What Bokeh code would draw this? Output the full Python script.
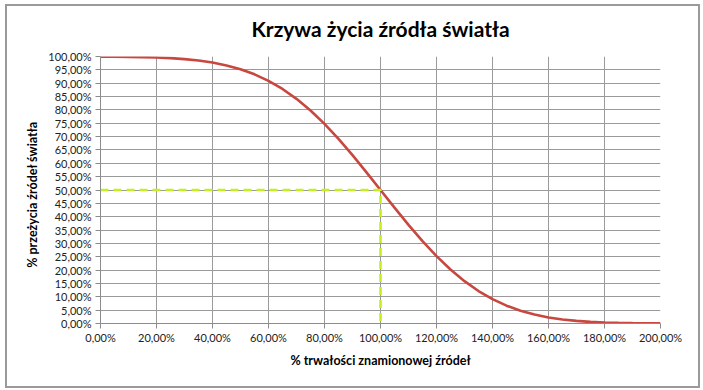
from bokeh.plotting import figure
from bokeh.models import FixedTicker, Range1d
from bokeh.embed import file_html
from bokeh.resources import INLINE

# ---- data ----
lifetime_pct = [0, 5, 10, 15, 20, 25, 30, 35, 40, 45, 50, 55, 60, 65, 70, 75, 80, 85, 90, 95,
                100, 105, 110, 115, 120, 125, 130, 135, 140, 145, 150, 155, 160, 165, 170,
                175, 180, 185, 190, 195, 200]
survival_pct = [99.96, 99.92, 99.87, 99.77, 99.62, 99.38, 99.02, 98.49, 97.72, 96.66, 95.22,
                93.32, 90.88, 87.84, 84.13, 79.77, 74.75, 69.15, 63.06, 56.62, 50.0, 43.38,
                36.94, 30.85, 25.25, 20.23, 15.87, 12.16, 9.12, 6.68, 4.78, 3.34, 2.28, 1.51,
                0.98, 0.62, 0.38, 0.23, 0.13, 0.08, 0.04]
marker_x = [0, 100, 100]
marker_y = [50, 50, 0]
x_ticks = [0, 20, 40, 60, 80, 100, 120, 140, 160, 180, 200]
y_ticks = [0, 5, 10, 15, 20, 25, 30, 35, 40, 45, 50, 55, 60, 65, 70, 75, 80, 85, 90, 95, 100]

title_text = "Krzywa życia źródła światła"
x_title = "% trwałości znamionowej źródeł"
y_title = "%  przeżycia  źródeł  światła"


def pct_label(v):
    return f"{v:.2f}%".replace(".", ",")


FONT = "Lato"
W, H = 691, 380

p = figure(width=W, height=H, output_backend="svg", toolbar_location=None,
           x_range=Range1d(0, 200), y_range=Range1d(0, 100),
           min_border_left=93, min_border_right=38, min_border_top=50, min_border_bottom=63)
p.frame_width = 560
p.frame_height = 267
p.styles = {"border": "2px solid #9a9a9a", "box-sizing": "border-box",
            "margin-left": "5px", "margin-top": "4px"}

p.background_fill_color = "white"
p.border_fill_color = "white"
p.outline_line_color = None

p.title.text = title_text
p.title.align = "center"
p.title.text_font = FONT
p.title.text_font_size = "21px"
p.title.text_font_style = "bold"
p.title.text_color = "#000000"
p.title.standoff = 0
p.title.padding = {"left": 0, "right": 0, "top": 0, "bottom": 16}

for ax in (p.xaxis[0], p.yaxis[0]):
    ax.axis_line_color = "#8c8c8c"
    ax.major_tick_line_color = "#8c8c8c"
    ax.major_tick_in = 0
    ax.major_tick_out = 5
    ax.minor_tick_line_color = None
    ax.major_label_text_font = FONT
    ax.major_label_text_font_size = "11px"
    ax.major_label_text_color = "#222222"
    ax.axis_label_text_font = FONT
    ax.axis_label_text_font_size = "12.5px"
    ax.axis_label_text_font_style = "bold"
    ax.axis_label_text_color = "#000000"

p.xaxis.ticker = FixedTicker(ticks=x_ticks)
p.yaxis.ticker = FixedTicker(ticks=y_ticks)
p.xaxis.major_label_overrides = {v: pct_label(v) for v in x_ticks}
p.yaxis.major_label_overrides = {v: pct_label(v) for v in y_ticks}
p.xaxis.axis_label = x_title
p.yaxis.axis_label = y_title
p.xaxis.major_label_standoff = 2
p.yaxis.major_label_standoff = 4
p.xaxis.axis_label_standoff = 6
p.yaxis.axis_label_standoff = 5

p.xgrid.ticker = FixedTicker(ticks=x_ticks)
p.ygrid.ticker = FixedTicker(ticks=y_ticks)
p.grid.grid_line_color = "#9a9a9a"
p.grid.grid_line_width = 1

p.line(lifetime_pct, survival_pct, line_color="#C8473F", line_width=2.6)
p.line(marker_x, marker_y, line_color="#C4F01E", line_width=2.6, line_dash="8 5")

open("out.html", "w").write(file_html(p, INLINE))
